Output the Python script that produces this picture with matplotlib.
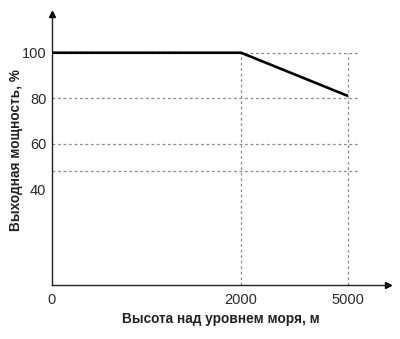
import numpy as np
import matplotlib
matplotlib.use("Agg")
import matplotlib.pyplot as plt

plt.rcParams['font.family'] = ['Liberation Sans', 'DejaVu Sans']

# данные
altitude = [0, 2000, 5000]
power = [100, 100, 81]
grid_levels = [100, 80, 60, 48]
x_ticks = [0, 2000, 5000]
y_ticks = [40, 60, 80, 100]

# нелинейная шкала по оси X (схема, а не масштаб)
alt_pts = [0, 2000, 5000, 8000]
pos_pts = [0, 189, 296, 403]

def fwd(x):
    return np.interp(x, alt_pts, pos_pts)

def inv(p):
    return np.interp(p, pos_pts, alt_pts)

fig = plt.figure(figsize=(4.0, 3.39), dpi=100)
ax = fig.add_axes([52 / 400, 54 / 339, 336 / 400, 271 / 339])
ax.set_xscale('function', functions=(fwd, inv))
ax.set_xlim(0, inv(336))
ax.set_ylim(-2, 117)

grid_kw = dict(color='#8c8c8c', lw=0.9, linestyle=(0, (2.2, 2.2)), zorder=1)
ax.hlines(grid_levels, 0, inv(306), **grid_kw)
ax.vlines(x_ticks[1:], -2, 100, **grid_kw)

ax.plot(altitude, power, color='black', lw=1.9, zorder=3, solid_capstyle='butt')

for s in ['top', 'right']:
    ax.spines[s].set_visible(False)
for s in ['left', 'bottom']:
    ax.spines[s].set_linewidth(1.0)
    ax.spines[s].set_color('#222222')
ax.plot(1, 0, '>', color='black', ms=5, transform=ax.transAxes, clip_on=False)
ax.plot(0, 1, '^', color='black', ms=5, transform=ax.transAxes, clip_on=False)

ax.set_xticks(x_ticks)
ax.set_xticklabels([str(t) for t in x_ticks])
ax.set_yticks(y_ticks)
ax.set_yticklabels([str(t) for t in y_ticks])
ax.tick_params(length=0, labelsize=10.5, colors='#2a2a2a', pad=4)
ax.tick_params(axis='x', pad=6)

ax.set_xlabel('Высота над уровнем моря, м', fontsize=9.8, fontweight='bold',
              color='#222222')
ax.set_ylabel('Выходная мощность, %', fontsize=9.8, fontweight='bold',
              color='#222222')
ax.xaxis.set_label_coords((221 - 52) / 336, -27 / 271)
ax.yaxis.set_label_coords(-29 / 336, (285 - 150) / 271)

fig.savefig('out.png', dpi=100)
